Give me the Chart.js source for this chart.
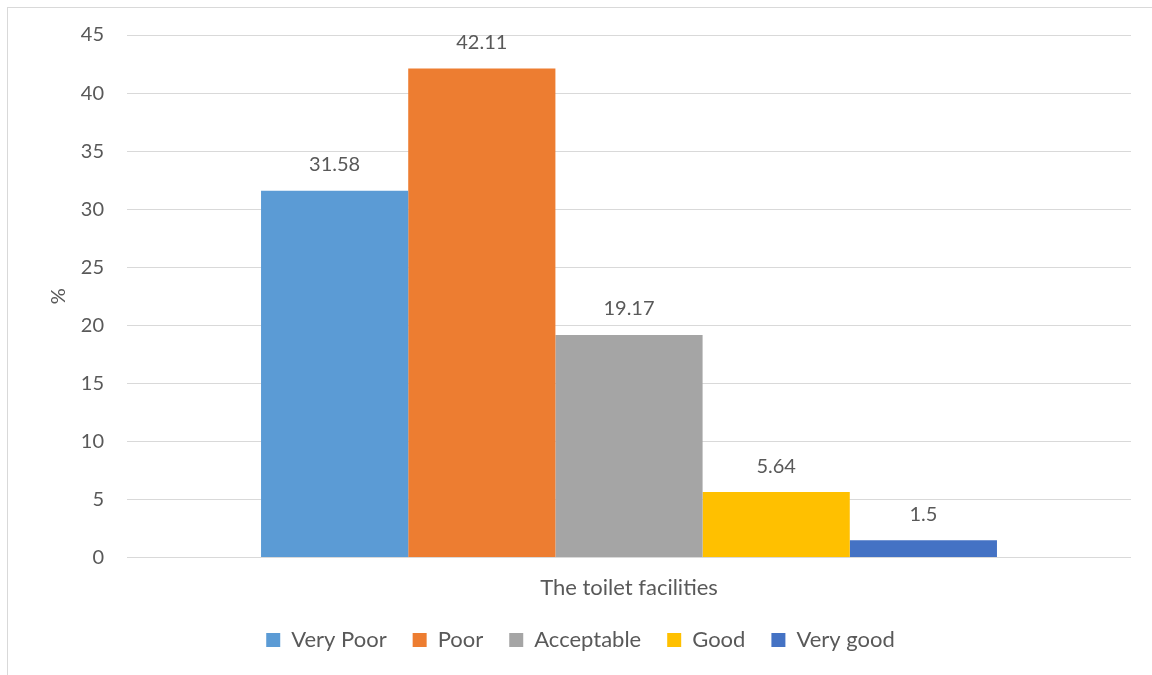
<!DOCTYPE html>
<html>
<head>
<meta charset="utf-8">
<script src="https://cdn.jsdelivr.net/npm/chart.js@4"></script>
<style>
  body { margin: 0; background: #fff; }
  #frame { position: absolute; left: 7px; top: 7px; width: 1200px; height: 700px;
           border-left: 1px solid #d9d9d9; border-top: 1px solid #d9d9d9; }
  #wrap { position: absolute; left: 0; top: 0; width: 1152px; height: 675px; }
</style>
</head>
<body>
<div id="frame"></div>
<div id="wrap"><canvas id="barChart"></canvas></div>
<script>
// chart data
var categories = ["The toilet facilities"];
var seriesNames = ["Very Poor", "Poor", "Acceptable", "Good", "Very good"];
var seriesValues = [31.58, 42.11, 19.17, 5.64, 1.5];
var seriesColors = ["#5b9bd5", "#ed7d31", "#a5a5a5", "#ffc000", "#4472c4"];
var yTicks = [0, 5, 10, 15, 20, 25, 30, 35, 40, 45];

var textColor = "#595959";
var fontFam = "Lato, 'Liberation Sans', sans-serif";

/**
 * draw the value above each bar
 */
var valueLabels = {
    id: 'valueLabels',
    afterDatasetsDraw: function (chart) {
        var ctx = chart.ctx;
        ctx.save();
        ctx.fillStyle = textColor;
        ctx.font = "20px " + fontFam;
        ctx.textAlign = 'center';
        ctx.textBaseline = 'bottom';
        chart.data.datasets.forEach(function (ds, i) {
            chart.getDatasetMeta(i).data.forEach(function (bar, j) {
                ctx.fillText(String(ds.data[j]), bar.x, bar.y - 16);
            });
        });
        ctx.restore();
    }
};

/**
 * pull the legend up a bit, closer to the axis label
 */
var legendShift = {
    id: 'legendShift',
    afterLayout: function (chart) {
        chart.legend.top -= 7;
        chart.legend.bottom -= 7;
    }
};

var datasets = seriesNames.map(function (name, i) {
    return {
        label: name,
        data: [seriesValues[i]],
        backgroundColor: seriesColors[i],
        barPercentage: 1,
        categoryPercentage: 0.733
    };
});

var ctxB = document.getElementById("barChart").getContext('2d');
var myBarChart = new Chart(ctxB, {
    type: 'bar',
    data: { labels: categories, datasets: datasets },
    plugins: [valueLabels, legendShift],
    options: {
        responsive: true,
        maintainAspectRatio: false,
        animation: false,
        layout: { padding: { left: 30, right: 21, top: 31, bottom: 7 } },
        plugins: {
            legend: {
                position: 'bottom',
                labels: {
                    boxWidth: 14, boxHeight: 14, padding: 26,
                    color: textColor,
                    font: { family: fontFam, size: 22 }
                }
            },
            tooltip: { enabled: false }
        },
        scales: {
            x: {
                grid: { display: false },
                border: { display: false },
                ticks: { color: textColor, font: { family: fontFam, size: 22 }, padding: 9 }
            },
            y: {
                min: 0, max: 45,
                afterBuildTicks: function (axis) {
                    axis.ticks = yTicks.map(function (v) { return { value: v }; });
                },
                afterFit: function (axis) { axis.width = 97; },
                grid: { color: '#d9d9d9', lineWidth: 1, drawTicks: false },
                border: { display: false },
                ticks: { color: textColor, font: { family: fontFam, size: 20 }, padding: 23 },
                title: { display: true, text: '%', color: textColor, font: { family: fontFam, size: 20 }, padding: 17 }
            }
        }
    }
});
</script>
</body>
</html>
